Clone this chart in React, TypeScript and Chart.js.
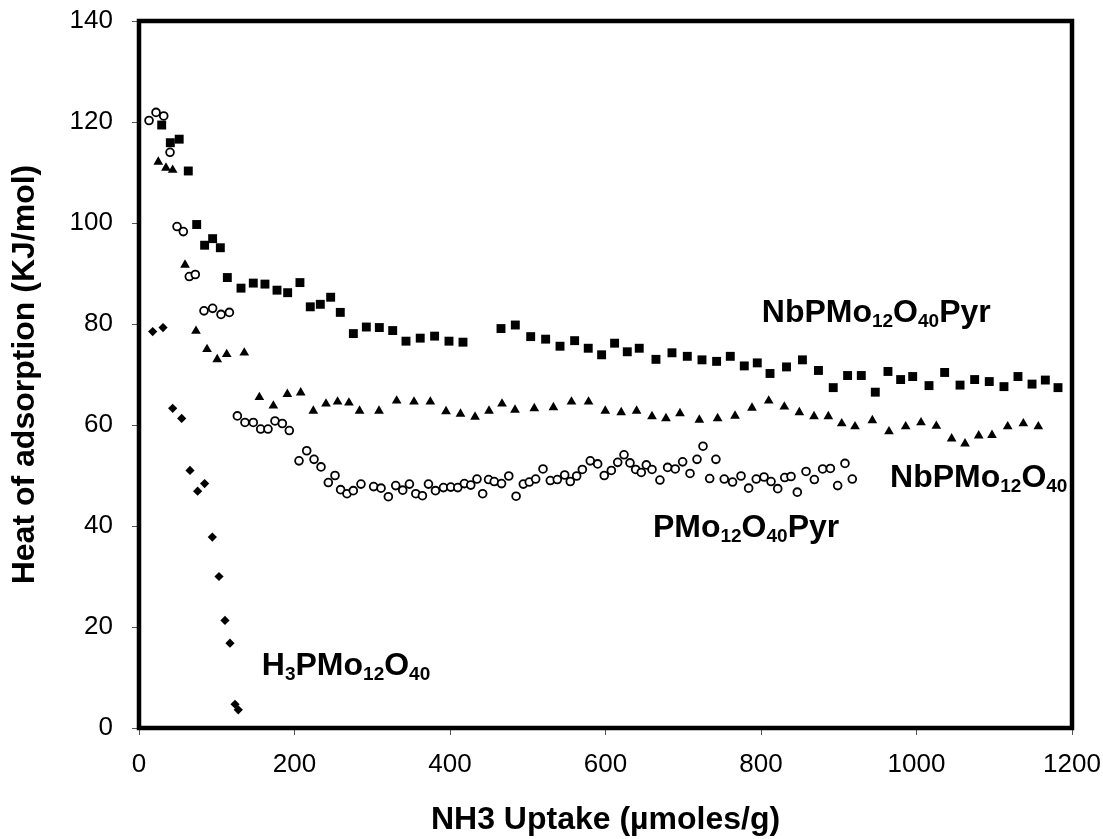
import React, { useEffect, useRef } from 'react';
import { Chart, registerables } from 'chart.js';

Chart.register(...registerables);

const FONT = '"Liberation Sans", Arial, Helvetica, sans-serif';

// NbPMo12O40Pyr (filled squares)
const nbPyrX = [29.2, 40.3, 51.7, 63.4, 74.2, 84.4, 94.7, 104.6, 113.6, 131.2, 147, 162, 177.5, 191.2, 207, 220.3, 233.2, 246.5, 258.9, 275.7, 292.4, 309.1, 326.3, 343.4, 361.7, 380.2, 398.7, 416.7, 465.6, 484, 503.8, 523, 541.5, 560.3, 577.8, 595, 611.7, 628, 643.4, 664.9, 685.5, 705.2, 724.1, 742.9, 760.5, 778.5, 795.2, 811.6, 832.8, 853.3, 873.9, 892.9, 911.4, 929, 947, 963.3, 979.6, 995.1, 1016.1, 1036.2, 1056, 1074.8, 1093.6, 1112.5, 1130.5, 1148.6, 1165.7, 1182];
const nbPyrY = [119.4, 115.9, 116.6, 110.3, 99.7, 95.6, 96.9, 95.1, 89.2, 87.1, 88.1, 87.9, 86.7, 86.2, 88.2, 83.4, 83.9, 85.3, 82.3, 78.1, 79.4, 79.3, 78.7, 76.6, 77.2, 77.6, 76.6, 76.4, 79.1, 79.8, 77.5, 77.0, 75.6, 76.7, 75.2, 73.9, 76.2, 74.5, 75.2, 73.0, 74.3, 73.6, 72.9, 72.6, 73.6, 71.7, 72.3, 70.2, 71.5, 72.9, 70.8, 67.4, 69.8, 69.8, 66.5, 70.6, 69.0, 69.6, 67.8, 70.4, 67.9, 69.0, 68.6, 67.6, 69.6, 68.1, 68.9, 67.4];

// NbPMo12O40 (filled triangles)
const nbX = [24.8, 34.7, 43.3, 59.2, 73.3, 87.5, 100.6, 112.8, 135.4, 154.8, 172.8, 190.8, 208, 224.2, 240.5, 255.4, 270, 283.7, 308.7, 331.4, 353.7, 374.7, 394.9, 413.5, 432.2, 450.2, 466.9, 483.6, 508.4, 533, 556.2, 578.2, 599.7, 620.2, 640, 659.8, 677.8, 695.8, 720.7, 744.2, 766.6, 788.4, 809.9, 830, 849.3, 868.2, 886.6, 903.8, 920.9, 943.2, 964.6, 986.1, 1005.8, 1025.5, 1045.2, 1062.4, 1080, 1097.1, 1117.3, 1137.4, 1156.7];
const nbY = [112.1, 110.9, 110.5, 91.7, 78.6, 75.0, 73.0, 74.0, 74.3, 65.5, 63.8, 66.1, 66.4, 62.8, 64.2, 64.6, 64.4, 62.8, 62.8, 64.8, 64.6, 64.6, 62.7, 62.2, 61.6, 62.8, 64.2, 63.0, 63.3, 63.5, 64.6, 64.6, 62.8, 62.5, 62.8, 61.7, 61.3, 62.3, 61.0, 61.3, 61.8, 63.4, 64.8, 63.6, 62.5, 61.7, 61.7, 60.3, 59.7, 60.9, 58.7, 59.7, 60.5, 59.8, 57.3, 56.3, 57.9, 58.0, 59.7, 60.3, 59.7];

// PMo12O40Pyr (open circles)
const pPyrX = [12.9, 21.9, 31.8, 39.9, 48.9, 57, 64.7, 72.4, 83.6, 94.7, 105.5, 116.2, 126.5, 136.3, 147, 156.5, 165.9, 174.9, 184.3, 193.3, 205.8, 215.7, 225.1, 234.1, 243.5, 252.1, 259.3, 267.5, 275.6, 285.5, 301.8, 311.3, 320.7, 330.2, 339.2, 347.8, 356, 364.5, 372.3, 381.3, 391.6, 401, 410, 418.5, 426.7, 434.7, 442, 449.6, 456.9, 466.3, 475.6, 485, 494.3, 502, 510.2, 519.6, 529, 538, 547.5, 554.7, 562.9, 570.2, 580.4, 589.9, 598.4, 607.5, 615.7, 623.8, 631.5, 638.8, 646, 652.5, 659.8, 670, 679.9, 689.7, 699.2, 708.7, 717.7, 725.4, 734, 742, 752.7, 763.4, 774.3, 784.1, 793.9, 803.9, 812.9, 821.5, 830.5, 838.6, 846.7, 857.9, 868.6, 879.3, 889.2, 898.6, 908, 917.4];
const pPyrY = [120.3, 121.9, 121.2, 114.0, 99.3, 98.3, 89.4, 89.8, 82.6, 83.1, 81.9, 82.3, 61.8, 60.5, 60.5, 59.2, 59.2, 60.8, 60.3, 58.9, 52.9, 54.9, 53.2, 51.7, 48.6, 50.0, 47.2, 46.4, 47.0, 48.3, 47.8, 47.5, 45.8, 48.0, 47.1, 48.3, 46.4, 46.0, 48.3, 47.0, 47.6, 47.7, 47.6, 48.4, 48.1, 49.3, 46.4, 49.2, 48.8, 48.4, 49.9, 45.9, 48.3, 48.7, 49.3, 51.3, 49.0, 49.2, 50.1, 48.8, 49.9, 51.2, 52.9, 52.3, 50.0, 51.0, 52.6, 54.1, 52.5, 51.2, 50.6, 52.1, 51.2, 49.1, 51.6, 51.3, 52.7, 50.4, 53.2, 55.8, 49.4, 53.2, 49.3, 48.7, 49.9, 47.5, 49.3, 49.7, 48.8, 47.4, 49.6, 49.8, 46.7, 50.8, 49.2, 51.3, 51.4, 48.0, 52.4, 49.3];

// H3PMo12O40 (filled diamonds)
const hX = [17.6, 30.9, 43.3, 54.9, 65.6, 75.4, 84.4, 94.3, 102.9, 110.6, 117, 123.5, 127.7];
const hY = [78.5, 79.3, 63.3, 61.3, 51.0, 46.9, 48.4, 37.8, 30.0, 21.3, 16.8, 4.7, 3.6];

const xTicks = [0, 200, 400, 600, 800, 1000, 1200];
const yTicks = [0, 20, 40, 60, 80, 100, 120, 140];

const xTitle = 'NH3 Uptake (µmoles/g)';
const yTitle = 'Heat of adsorption (KJ/mol)';

// in-plot series labels (text with _{sub} markup) and their anchor values
const labelTexts = ['NbPMo_{12}O_{40}Pyr', 'NbPMo_{12}O_{40}', 'PMo_{12}O_{40}Pyr', 'H_{3}PMo_{12}O_{40}'];
const labelX = [801, 966, 661, 158];
const labelY = [80.4, 47.7, 37.8, 10.5];

const pts = (xs: number[], ys: number[]) => xs.map((x, i) => ({ x, y: ys[i] }));

const framePlugin = {
  id: 'frame',
  beforeDatasetsDraw(chart: any) {
    const { ctx, chartArea } = chart;
    ctx.save();
    ctx.strokeStyle = '#000';
    ctx.lineWidth = 4.5;
    ctx.strokeRect(chartArea.left, chartArea.top, chartArea.right - chartArea.left, chartArea.bottom - chartArea.top);
    ctx.restore();
  },
};

const labelPlugin = {
  id: 'seriesLabels',
  afterDatasetsDraw(chart: any) {
    const { ctx, scales } = chart;
    ctx.save();
    ctx.fillStyle = '#000';
    ctx.textBaseline = 'alphabetic';
    ctx.textAlign = 'left';
    labelTexts.forEach((t, i) => {
      let px = scales.x.getPixelForValue(labelX[i]);
      const py = scales.y.getPixelForValue(labelY[i]);
      const parts = t.split(/_\{([^}]*)\}/);
      parts.forEach((p, j) => {
        if (!p) return;
        const sub = j % 2 === 1;
        ctx.font = `bold ${sub ? 19 : 32}px ${FONT}`;
        ctx.fillText(p, px, py + (sub ? 5 : 0));
        px += ctx.measureText(p).width;
      });
    });
    ctx.restore();
  },
};

export default function App() {
  const ref = useRef<HTMLCanvasElement>(null);
  useEffect(() => {
    if (!ref.current) return;
    const chart = new Chart(ref.current, {
      type: 'scatter',
      data: {
        datasets: [
          {
            label: 'NbPMo12O40Pyr',
            data: pts(nbPyrX, nbPyrY),
            pointStyle: 'rect',
            pointRadius: 6.3,
            backgroundColor: '#000',
            borderColor: '#000',
            borderWidth: 0,
          },
          {
            label: 'NbPMo12O40',
            data: pts(nbX, nbY),
            pointStyle: 'triangle',
            pointRadius: 5.6,
            backgroundColor: '#000',
            borderColor: '#000',
            borderWidth: 0,
          },
          {
            label: 'PMo12O40Pyr',
            data: pts(pPyrX, pPyrY),
            pointStyle: 'circle',
            pointRadius: 3.9,
            backgroundColor: '#fff',
            borderColor: '#000',
            borderWidth: 1.8,
          },
          {
            label: 'H3PMo12O40',
            data: pts(hX, hY),
            pointStyle: 'rectRot',
            pointRadius: 4.6,
            backgroundColor: '#000',
            borderColor: '#000',
            borderWidth: 0,
          },
        ],
      },
      options: {
        responsive: false,
        animation: false,
        events: [],
        layout: { padding: { top: 21, right: 31, left: 0, bottom: 0 } },
        plugins: { legend: { display: false }, tooltip: { enabled: false } },
        scales: {
          x: {
            type: 'linear',
            min: 0,
            max: 1200,
            afterBuildTicks: (s: any) => { s.ticks = xTicks.map((v) => ({ value: v })); },
            afterFit: (s: any) => { s.height = 111; s.paddingLeft = 0; s.paddingRight = 0; },
            ticks: { color: '#000', font: { family: FONT, size: 26 }, padding: 14, maxRotation: 0, autoSkip: false, callback: (v: any) => String(v) },
            grid: { drawOnChartArea: false, drawTicks: true, tickLength: 7, color: '#555', lineWidth: 1 },
            border: { display: false },
            title: { display: true, text: xTitle, color: '#000', font: { family: FONT, size: 32, weight: 'bold' }, padding: { top: 0, bottom: 0 } },
          },
          y: {
            type: 'linear',
            min: 0,
            max: 140,
            afterBuildTicks: (s: any) => { s.ticks = yTicks.map((v) => ({ value: v })); },
            afterFit: (s: any) => { s.width = 139; s.paddingTop = 0; s.paddingBottom = 0; },
            ticks: { color: '#000', font: { family: FONT, size: 26 }, padding: 19, autoSkip: false, callback: (v: any) => String(v) },
            grid: { drawOnChartArea: false, drawTicks: true, tickLength: 7, color: '#555', lineWidth: 1 },
            border: { display: false },
            title: { display: true, text: yTitle, color: '#000', font: { family: FONT, size: 32, weight: 'bold' }, padding: { top: 6, bottom: 0 } },
          },
        },
      },
      plugins: [framePlugin, labelPlugin],
    } as any);
    return () => chart.destroy();
  }, []);
  return (
    <div style={{ position: 'absolute', left: 0, top: 0, width: 1103, height: 839, background: '#fff' }}>
      <canvas ref={ref} width={1103} height={839} style={{ width: 1103, height: 839, display: 'block' }} />
    </div>
  );
}
